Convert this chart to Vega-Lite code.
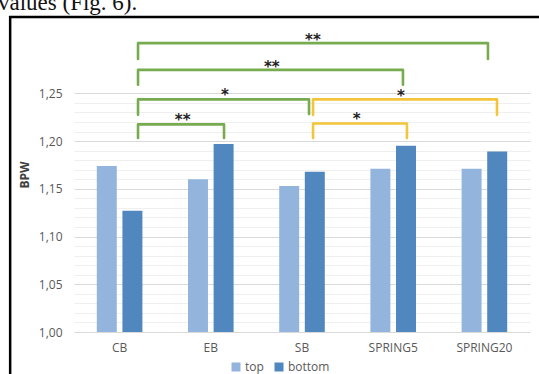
{
  "$schema": "https://vega.github.io/schema/vega-lite/v6.json",
  "width": 456,
  "height": 315,
  "autosize": {"type": "none"},
  "padding": {"left": 74, "top": 17, "right": 9, "bottom": 42},
  "background": "white",
  "config": {"view": {"stroke": null}},
  "title": {"text": "values (Fig. 6).", "anchor": "start", "frame": "group", "font": "Liberation Serif", "fontSize": 23, "fontWeight": "normal", "color": "#111111", "dx": -76, "offset": 4, "dy": 3},
  "datasets": {
    "bars": [
      {"cat": "CB", "pos": "top", "value": 1.174},
      {"cat": "CB", "pos": "bottom", "value": 1.127},
      {"cat": "EB", "pos": "top", "value": 1.160},
      {"cat": "EB", "pos": "bottom", "value": 1.197},
      {"cat": "SB", "pos": "top", "value": 1.153},
      {"cat": "SB", "pos": "bottom", "value": 1.168},
      {"cat": "SPRING5", "pos": "top", "value": 1.171},
      {"cat": "SPRING5", "pos": "bottom", "value": 1.195},
      {"cat": "SPRING20", "pos": "top", "value": 1.171},
      {"cat": "SPRING20", "pos": "bottom", "value": 1.189}
    ],
    "brackets": [
      {"id": "B1", "k": 1, "bx": 0.702, "by": 1.286, "col": "green"},
      {"id": "B1", "k": 2, "bx": 0.702, "by": 1.3026, "col": "green"},
      {"id": "B1", "k": 3, "bx": 4.539, "by": 1.3026, "col": "green"},
      {"id": "B1", "k": 4, "bx": 4.539, "by": 1.286, "col": "green"},
      {"id": "B2", "k": 1, "bx": 0.702, "by": 1.259, "col": "green"},
      {"id": "B2", "k": 2, "bx": 0.702, "by": 1.2746, "col": "green"},
      {"id": "B2", "k": 3, "bx": 3.607, "by": 1.2746, "col": "green"},
      {"id": "B2", "k": 4, "bx": 3.607, "by": 1.259, "col": "green"},
      {"id": "B3", "k": 1, "bx": 0.702, "by": 1.2275, "col": "green"},
      {"id": "B3", "k": 2, "bx": 0.702, "by": 1.2437, "col": "green"},
      {"id": "B3", "k": 3, "bx": 2.577, "by": 1.2437, "col": "green"},
      {"id": "B3", "k": 4, "bx": 2.577, "by": 1.2285, "col": "green"},
      {"id": "B4", "k": 1, "bx": 2.621, "by": 1.2275, "col": "yellow"},
      {"id": "B4", "k": 2, "bx": 2.621, "by": 1.2437, "col": "yellow"},
      {"id": "B4", "k": 3, "bx": 4.638, "by": 1.2437, "col": "yellow"},
      {"id": "B4", "k": 4, "bx": 4.638, "by": 1.2275, "col": "yellow"},
      {"id": "B5", "k": 1, "bx": 0.702, "by": 1.2033, "col": "green"},
      {"id": "B5", "k": 2, "bx": 0.702, "by": 1.2175, "col": "green"},
      {"id": "B5", "k": 3, "bx": 1.645, "by": 1.2175, "col": "green"},
      {"id": "B5", "k": 4, "bx": 1.645, "by": 1.2033, "col": "green"},
      {"id": "B6", "k": 1, "bx": 2.621, "by": 1.2033, "col": "yellow"},
      {"id": "B6", "k": 2, "bx": 2.621, "by": 1.2185, "col": "yellow"},
      {"id": "B6", "k": 3, "bx": 3.651, "by": 1.2185, "col": "yellow"},
      {"id": "B6", "k": 4, "bx": 3.651, "by": 1.2033, "col": "yellow"}
    ],
    "stars": [
      {"sx": 2.62, "sy": 1.311, "label": "**"},
      {"sx": 2.168, "sy": 1.2827, "label": "**"},
      {"sx": 1.656, "sy": 1.2537, "label": "*"},
      {"sx": 3.586, "sy": 1.252, "label": "*"},
      {"sx": 1.192, "sy": 1.2275, "label": "**"},
      {"sx": 3.10, "sy": 1.2285, "label": "*"}
    ],
    "frame": [
      {"fx": -0.70, "fx2": 6, "fy": 1.33, "fy2": 0.9}
    ]
  },
  "layer": [
    {
      "data": {"name": "bars"},
      "mark": {"type": "bar"},
      "encoding": {
        "x": {
          "field": "cat", "type": "nominal",
          "sort": ["CB", "EB", "SB", "SPRING5", "SPRING20"],
          "scale": {"paddingInner": 0.5, "paddingOuter": 0.25},
          "axis": {"title": null, "labelAngle": 0, "ticks": false, "tickSize": 0, "domain": false, "grid": false, "labelPadding": 10, "labelFont": "Open Sans", "labelFontSize": 12, "labelColor": "#595959"}
        },
        "xOffset": {
          "field": "pos", "type": "nominal", "sort": ["top", "bottom"],
          "scale": {"paddingInner": 0.22, "paddingOuter": 0}
        },
        "y": {
          "field": "value", "type": "quantitative",
          "scale": {"domain": [1, 1.33], "zero": false, "nice": false},
          "axis": {
            "values": [1, 1.05, 1.1, 1.15, 1.2, 1.25],
            "labelExpr": "replace(format(datum.value, '.2f'), '.', ',')",
            "title": "BPW", "grid": true, "gridColor": "#d9d9d9", "domain": false, "ticks": false, "tickSize": 0,
            "labelPadding": 12, "labelFont": "Open Sans", "labelFontSize": 12, "labelColor": "#595959",
            "titleFont": "Open Sans", "titleFontSize": 12, "titleFontWeight": "bold", "titleColor": "#404040", "titlePadding": 7
          }
        },
        "y2": {"datum": 1},
        "color": {
          "field": "pos", "type": "nominal",
          "scale": {"domain": ["top", "bottom"], "range": ["#93B5DD", "#4F87BE"]},
          "legend": {
            "orient": "none", "legendX": 156, "legendY": 344, "direction": "horizontal", "title": null,
            "symbolType": "square", "symbolSize": 81, "symbolStrokeWidth": 0, "labelFont": "Open Sans", "labelFontSize": 12,
            "labelColor": "#595959", "labelOffset": 3, "columnPadding": 9
          }
        }
      }
    },
    {
      "data": {"name": "brackets"},
      "mark": {"type": "line", "strokeWidth": 2.6, "strokeCap": "round", "strokeJoin": "round"},
      "encoding": {
        "x": {"field": "bx", "type": "quantitative", "scale": {"domain": [0, 5], "nice": false, "zero": false}, "axis": null},
        "y": {
          "field": "by", "type": "quantitative",
          "scale": {"domain": [1, 1.33], "zero": false, "nice": false},
          "axis": {
            "orient": "right",
            "values": [1.01, 1.02, 1.03, 1.04, 1.06, 1.07, 1.08, 1.09, 1.11, 1.12, 1.13, 1.14, 1.16, 1.17, 1.18, 1.19, 1.21, 1.22, 1.23, 1.24],
            "grid": true, "gridColor": "#efefef", "labels": false, "ticks": false, "domain": false, "title": null
          }
        },
        "detail": {"field": "id"},
        "order": {"field": "k", "type": "quantitative"},
        "stroke": {"field": "col", "type": "nominal", "scale": {"domain": ["green", "yellow"], "range": ["#77AB4F", "#F3C53A"]}, "legend": null}
      }
    },
    {
      "data": {"name": "stars"},
      "mark": {"type": "text", "font": "DejaVu Sans", "fontSize": 15, "fontWeight": "bold", "color": "#222222", "baseline": "middle", "dy": 5},
      "encoding": {
        "x": {"field": "sx", "type": "quantitative", "scale": {"domain": [0, 5], "nice": false, "zero": false}, "axis": null},
        "y": {"field": "sy", "type": "quantitative", "scale": {"domain": [1, 1.33], "zero": false, "nice": false}, "axis": null},
        "text": {"field": "label"}
      }
    },
    {
      "data": {"name": "frame"},
      "mark": {"type": "rect", "filled": false, "stroke": "#000000", "strokeWidth": 2.5},
      "encoding": {
        "x": {"field": "fx", "type": "quantitative", "scale": {"domain": [0, 5], "nice": false, "zero": false}, "axis": null},
        "x2": {"field": "fx2"},
        "y": {"field": "fy", "type": "quantitative", "scale": {"domain": [1, 1.33], "zero": false, "nice": false}, "axis": null},
        "y2": {"field": "fy2"}
      }
    }
  ],
  "resolve": {"scale": {"x": "independent"}, "axis": {"y": "independent"}}
}
